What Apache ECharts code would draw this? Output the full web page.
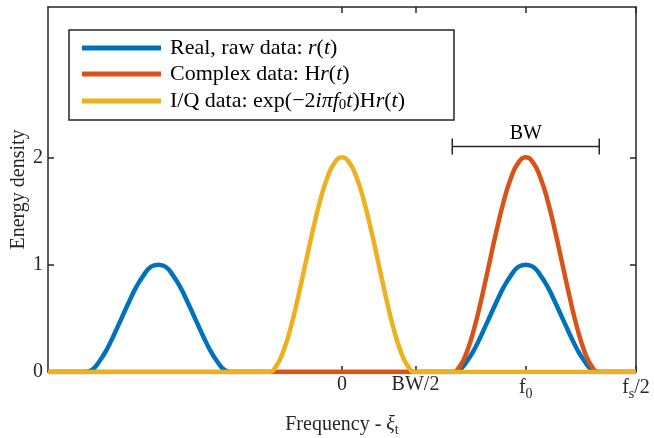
<!DOCTYPE html>
<html>
<head>
<meta charset="utf-8">
<script src="https://cdn.jsdelivr.net/npm/echarts@6/dist/echarts.min.js"></script>
<style>
  html, body { margin: 0; padding: 0; background: #fff; }
  #chart { width: 654px; height: 438px; }
</style>
</head>
<body>
<div id="chart"></div>
<script>
// frequency axis runs from -fs/2 to fs/2 (units: BW/2 = 1)
var freqMin = -4;
var freqMax = 4;
var energyMax = 3.4;

// tick positions and labels along the frequency axis
var freqTicks = [0, 1, 2.5, 4];
var freqTickLabels = ['0', 'BW/2', '{n|f}{sub|0}', '{n|f}{sub|s}{n|/2}'];
var energyTicks = [0, 1, 2];

// offsets across one spectral lobe (width BW) and the lobe heights
var lobeOffsets = [-1, -0.9, -0.8, -0.7, -0.6, -0.5, -0.4, -0.3, -0.2, -0.1, 0,
                   0.1, 0.2, 0.3, 0.4, 0.5, 0.6, 0.7, 0.8, 0.9, 1];
var realLobe = [0, 0.02, 0.1, 0.21, 0.35, 0.5, 0.65, 0.79, 0.9, 0.98, 1,
                0.98, 0.9, 0.79, 0.65, 0.5, 0.35, 0.21, 0.1, 0.02, 0];
var doubleLobe = [0, 0.05, 0.19, 0.41, 0.69, 1, 1.31, 1.59, 1.81, 1.95, 2,
                  1.95, 1.81, 1.59, 1.31, 1, 0.69, 0.41, 0.19, 0.05, 0];

// lobe centres of each signal
var realCenters = [-2.5, 2.5];
var complexCenters = [2.5];
var iqCenters = [0];

// bandwidth bracket: from, to, height
var bwBracket = [1.5, 3.5, 2.1];

var seriesNames = [
  'Real, raw data: {i|r}({i|t})',
  'Complex data: H{i|r}({i|t})',
  'I/Q data: exp(\u22122{i|i\u03c0f}{sub|0}{i|t})H{i|r}({i|t})'
];
var seriesColors = ['#0072BD', '#D95319', '#EDB120'];

var SERIF = '"Liberation Serif", "DejaVu Serif", serif';
var INK = '#262626';
var FS = 20;

function buildSpectrum(centers, lobe) {
  var pts = [[freqMin, 0]];
  centers.forEach(function (c) {
    lobeOffsets.forEach(function (o, i) {
      pts.push([c + o, lobe[i]]);
    });
  });
  pts.push([freqMax, 0]);
  return pts;
}

function lineSeries(name, color, data) {
  return {
    name: name,
    type: 'line',
    data: data,
    showSymbol: false,
    smooth: 0.5,
    lineStyle: { color: color, width: 4.5 },
    itemStyle: { color: color },
    emphasis: { disabled: true },
    animation: false
  };
}

var chart = echarts.init(document.getElementById('chart'), null, { renderer: 'canvas' });

var axisLine = { show: true, onZero: false, lineStyle: { color: INK, width: 1.5 } };
function ticks(vals) {
  return { show: true, inside: true, length: 6, customValues: vals, lineStyle: { color: INK, width: 1.5 } };
}

var option = {
  backgroundColor: '#fff',
  animation: false,
  grid: { left: 48, right: 18, top: 7, bottom: 66, outerBoundsMode: 'none', containLabel: false },
  legend: {
    data: seriesNames,
    orient: 'vertical',
    left: 69,
    top: 30,
    padding: [7, 49, 7, 13],
    itemGap: 4,
    itemWidth: 79,
    itemHeight: 5,
    icon: 'rect',
    borderColor: INK,
    borderWidth: 1.5,
    backgroundColor: '#fff',
    selectedMode: false,
    textStyle: {
      fontFamily: SERIF,
      fontSize: 22,
      lineHeight: 22,
      color: '#000',
      padding: [0, 0, 0, 4],
      rich: {
        i: { fontFamily: SERIF, fontSize: 22, lineHeight: 22, fontStyle: 'italic', color: '#000' },
        sub: { fontFamily: SERIF, fontSize: 15, lineHeight: 22, color: '#000', padding: [9, 0, 0, 0] }
      }
    }
  },
  xAxis: [{
    type: 'value',
    min: freqMin,
    max: freqMax,
    name: 'Frequency - {i|\u03be}{sub|t}',
    nameLocation: 'middle',
    nameGap: 41,
    nameMoveOverlap: false,
    nameTextStyle: {
      fontFamily: SERIF, fontSize: FS, color: INK,
      rich: {
        i: { fontFamily: SERIF, fontSize: FS, fontStyle: 'italic', color: INK },
        sub: { fontFamily: SERIF, fontSize: 14, color: INK, padding: [10, 0, 0, 0] }
      }
    },
    axisLine: axisLine,
    splitLine: { show: false },
    axisTick: ticks(freqTicks),
    axisLabel: {
      customValues: freqTicks,
      margin: 3,
      fontFamily: SERIF,
      fontSize: FS,
      color: INK,
      formatter: function (v) {
        var k = freqTicks.indexOf(v);
        return k >= 0 ? freqTickLabels[k] : '';
      },
      rich: {
        n: { fontFamily: SERIF, fontSize: FS, color: INK },
        sub: { fontFamily: SERIF, fontSize: 14, color: INK, padding: [12, 0, 0, 0] }
      }
    }
  }, {
    type: 'value',
    position: 'top',
    min: freqMin,
    max: freqMax,
    axisLine: axisLine,
    splitLine: { show: false },
    axisTick: ticks(freqTicks),
    axisLabel: { show: false }
  }],
  yAxis: [{
    type: 'value',
    min: 0,
    max: energyMax,
    name: 'Energy density',
    nameLocation: 'middle',
    nameGap: 19,
    nameMoveOverlap: false,
    nameTextStyle: { fontFamily: SERIF, fontSize: FS, color: INK },
    axisLine: axisLine,
    splitLine: { show: false },
    axisTick: ticks(energyTicks),
    axisLabel: {
      customValues: energyTicks,
      margin: 5,
      fontFamily: SERIF,
      fontSize: FS,
      color: INK
    }
  }, {
    type: 'value',
    position: 'right',
    min: 0,
    max: energyMax,
    axisLine: axisLine,
    splitLine: { show: false },
    axisTick: ticks(energyTicks),
    axisLabel: { show: false }
  }],
  series: [
    lineSeries(seriesNames[0], seriesColors[0], buildSpectrum(realCenters, realLobe)),
    lineSeries(seriesNames[1], seriesColors[1], buildSpectrum(complexCenters, doubleLobe)),
    lineSeries(seriesNames[2], seriesColors[2], buildSpectrum(iqCenters, doubleLobe)),
    {
      name: 'bw',
      type: 'custom',
      data: [bwBracket],
      silent: true,
      z: 5,
      renderItem: function (params, api) {
        var a = api.coord([api.value(0), api.value(2)]);
        var b = api.coord([api.value(1), api.value(2)]);
        var cap = 8;
        var st = { stroke: INK, lineWidth: 1.5 };
        return {
          type: 'group',
          children: [
            { type: 'line', shape: { x1: a[0], y1: a[1], x2: b[0], y2: b[1] }, style: st },
            { type: 'line', shape: { x1: a[0], y1: a[1] - cap, x2: a[0], y2: a[1] + cap }, style: st },
            { type: 'line', shape: { x1: b[0], y1: b[1] - cap, x2: b[0], y2: b[1] + cap }, style: st },
            {
              type: 'text',
              x: (a[0] + b[0]) / 2,
              y: a[1] - 3,
              style: {
                text: 'BW',
                fill: '#000',
                font: FS + 'px ' + SERIF,
                textAlign: 'center',
                textVerticalAlign: 'bottom'
              }
            }
          ]
        };
      }
    }
  ]
};

chart.setOption(option);
</script>
</body>
</html>
